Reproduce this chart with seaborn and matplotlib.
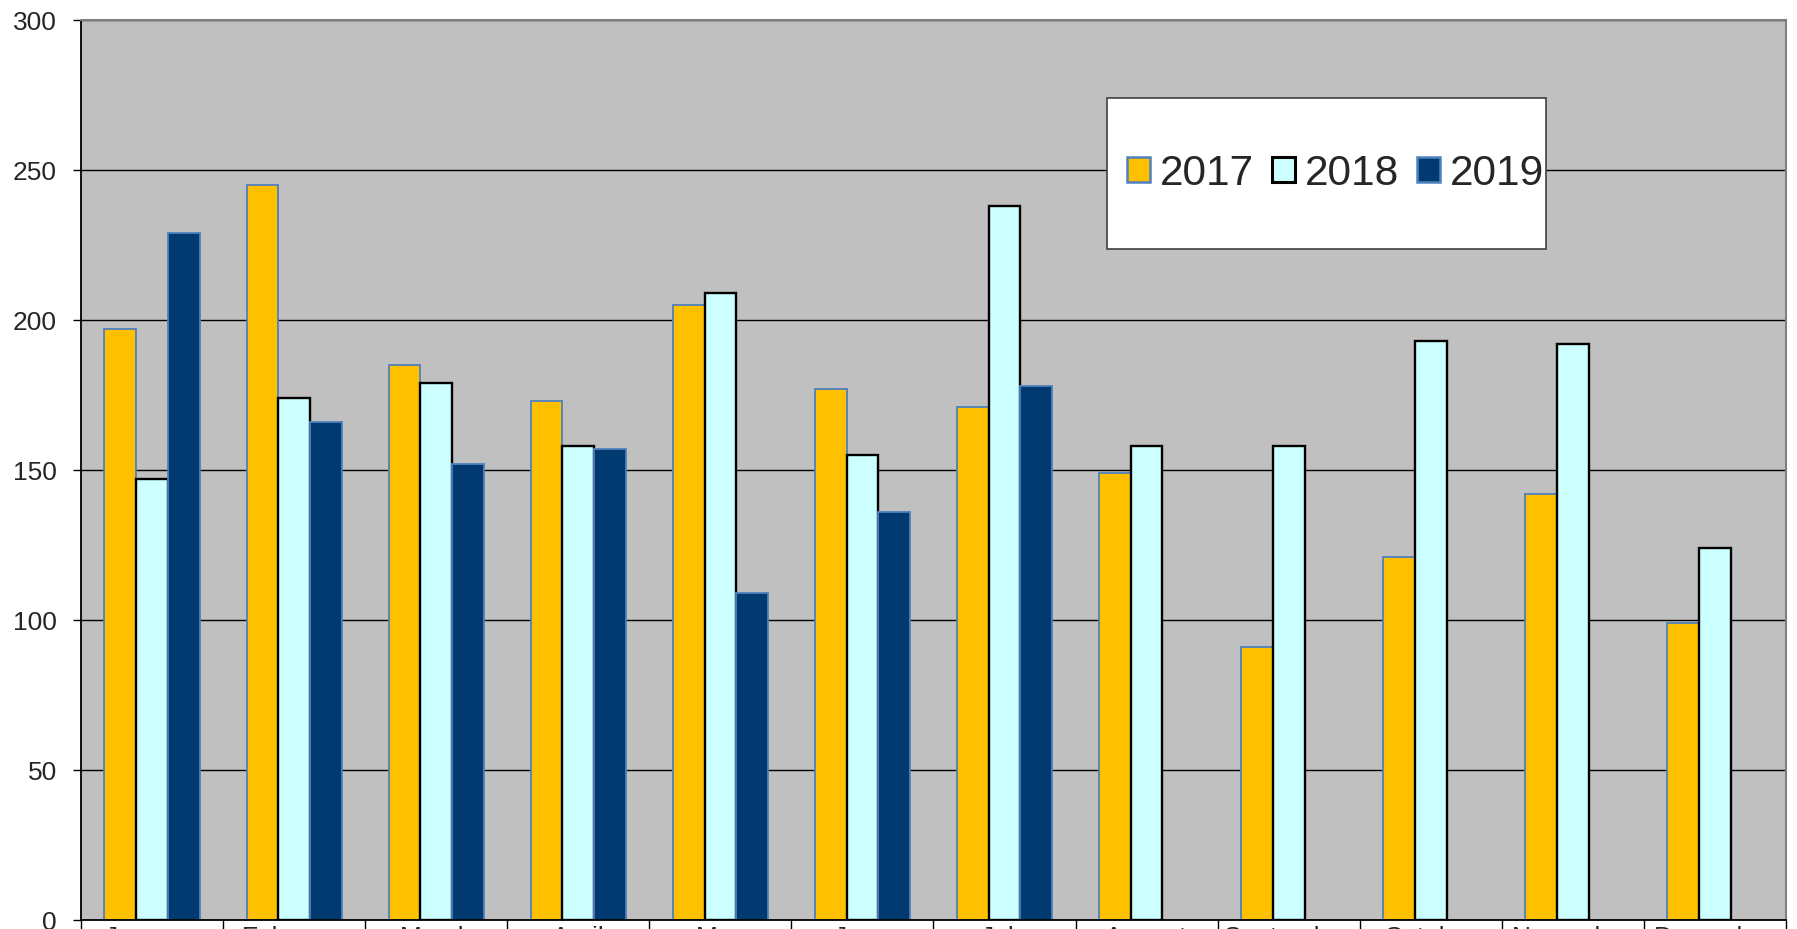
import matplotlib
matplotlib.use("Agg")
import matplotlib.pyplot as plt
import numpy as np
import pandas as pd
import seaborn as sns
from matplotlib.patches import Rectangle

# data
months = ['January', 'February', 'March', 'April', 'May', 'June', 'July',
          'August', 'September', 'October', 'November', 'December']
years = ['2017', '2018', '2019']
v2017 = [197, 245, 185, 173, 205, 177, 171, 149, 91, 121, 142, 99]
v2018 = [147, 174, 179, 158, 209, 155, 238, 158, 158, 193, 192, 124]
v2019 = [229, 166, 152, 157, 109, 136, 178, None, None, None, None, None]

face_colors = ['#FFC000', '#CCFFFF', '#003A70']
edge_colors = ['#4F81BD', '#000000', '#4F81BD']
edge_widths = [1.3, 1.7, 1.3]

# long table for seaborn
df = pd.DataFrame({
    'month': months * 3,
    'year': np.repeat(years, len(months)),
    'value': v2017 + v2018 + v2019,
}).dropna()

sns.set_style('white')
plt.rcParams['font.family'] = ['Liberation Sans', 'DejaVu Sans']

fig = plt.figure(figsize=(17.97, 9.291), dpi=100)
ax = fig.add_axes([81 / 1797, 1 - 920 / 929, 1705 / 1797, 900 / 929])

sns.barplot(data=df, x='month', y='value', hue='year', order=months,
            hue_order=years, palette=face_colors, width=0.67,
            errorbar=None, saturation=1, ax=ax)

# edge colours per series
for bars, ec, lw in zip(ax.containers, edge_colors, edge_widths):
    for bar in bars:
        bar.set_edgecolor(ec)
        bar.set_linewidth(lw)

ax.set_facecolor('#C0C0C0')
ax.set_xlim(-0.5, len(months) - 0.5)
ax.set_ylim(0, 300)
ax.set_yticks(np.arange(0, 301, 50))
ax.yaxis.grid(True, color='#000000', linewidth=1.0)
ax.set_axisbelow(True)

# category separators below the axis
ax.set_xticks(np.arange(-0.5, len(months), 1), minor=True)
ax.tick_params(axis='x', which='minor', length=20, width=1, color='black', direction='out', bottom=True)
ax.tick_params(axis='x', which='major', length=0, pad=4.2, labelsize=19)
ax.tick_params(axis='y', length=5.8, width=1, color='black', direction='out', left=True, pad=11.5, labelsize=19)

ax.set_xlabel('')
ax.set_ylabel('')

for side in ['left', 'bottom']:
    ax.spines[side].set_color('black')
    ax.spines[side].set_linewidth(1.3)
for side in ['top', 'right']:
    ax.spines[side].set_color('#808080')
    ax.spines[side].set_linewidth(1.5)

# legend box
ax.add_patch(Rectangle((0.602, 0.746), 0.257, 0.167, transform=ax.transAxes,
                       facecolor='white', edgecolor='#404040', linewidth=1.2, zorder=4))
handles, labels = ax.get_legend_handles_labels()
leg = ax.legend(handles, labels, ncol=3, frameon=False, loc='center',
                bbox_to_anchor=(0.736, 0.829), fontsize=30.5,
                handlelength=0.53, handleheight=0.53, handletextpad=0.24,
                columnspacing=0.43, borderpad=0)
leg.set_zorder(5)
for h, ec, lw in zip(leg.legend_handles, edge_colors, edge_widths):
    h.set_edgecolor(ec)
    h.set_linewidth(lw + 0.5)

fig.savefig('out.png', dpi=100)
